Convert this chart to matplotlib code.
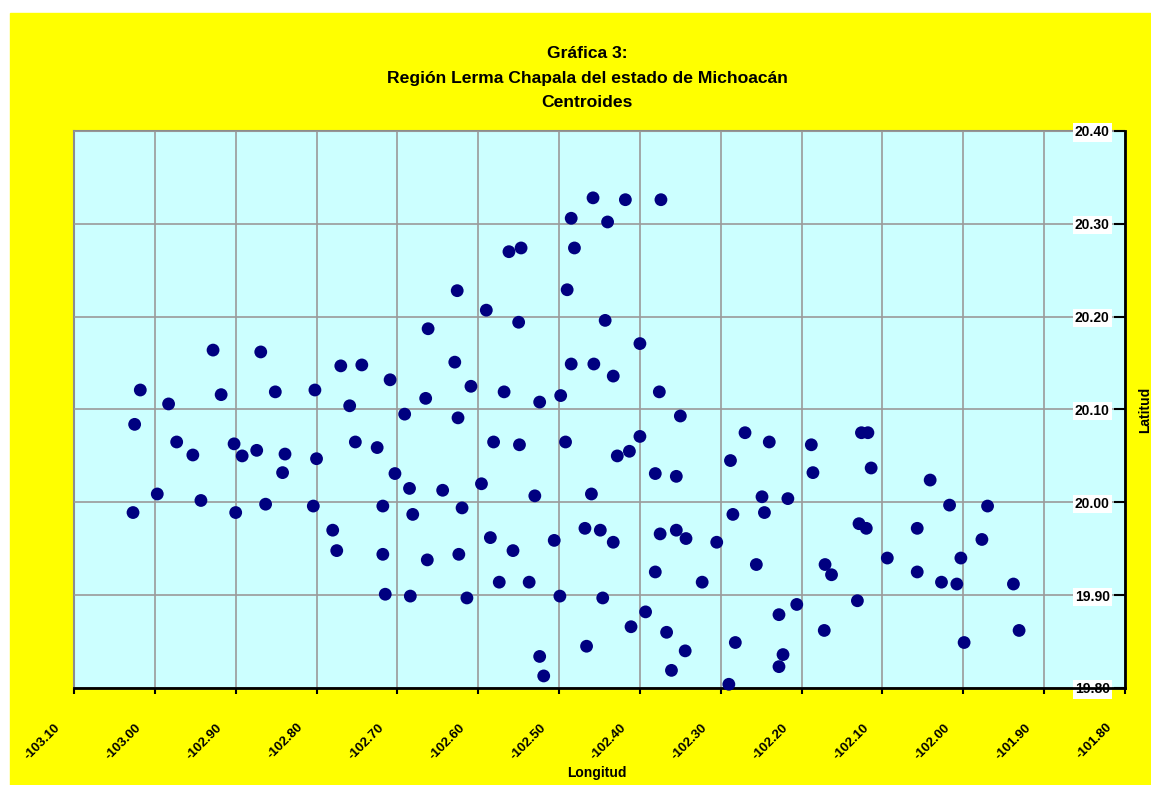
import numpy as np
import matplotlib
matplotlib.use('Agg')
import matplotlib.pyplot as plt
from matplotlib.patches import Rectangle
from matplotlib.transforms import ScaledTranslation

plt.rcParams['font.family'] = ['Liberation Sans', 'DejaVu Sans']

# centroides (longitud, latitud)
longitud = [
    -102.928, -102.869, -102.770, -102.744, -102.709, -103.018, -102.983, -102.918,
    -102.851, -102.802, -102.759, -103.025, -102.973, -102.953, -102.902, -102.892,
    -102.874, -102.839, -102.842, -102.800, -102.752, -102.725, -102.703, -102.997,
    -103.027, -102.943, -102.900, -102.863, -102.804, -102.718, -102.780, -102.775,
    -102.718, -102.715,
    -102.458, -102.418, -102.374, -102.485, -102.440, -102.562, -102.547, -102.481,
    -102.626, -102.490, -102.590, -102.550, -102.443, -102.662, -102.400, -102.629,
    -102.485, -102.457, -102.433, -102.609, -102.665, -102.568, -102.524, -102.498,
    -102.376, -102.691, -102.625, -102.350,
    -102.581, -102.549, -102.492, -102.400, -102.428, -102.413, -102.685, -102.644,
    -102.596, -102.530, -102.460, -102.381, -102.355, -102.620, -102.681, -102.585,
    -102.506, -102.468, -102.449, -102.433, -102.375, -102.355, -102.343, -102.305,
    -102.663, -102.624, -102.557, -102.574, -102.537, -102.381, -102.323, -102.684,
    -102.614, -102.499, -102.446, -102.393, -102.411, -102.367, -102.466, -102.344,
    -102.524, -102.361, -102.519,
    -102.270, -102.240, -102.288, -102.188, -102.186, -102.126, -102.118, -102.114,
    -102.041, -102.249, -102.217, -102.285, -102.246, -102.017, -101.970, -102.129,
    -102.120, -102.057, -101.977, -102.256, -102.171, -102.163, -102.094, -102.057,
    -102.003, -102.027, -102.008, -101.938, -102.206, -102.228, -102.131, -102.172,
    -102.282, -101.931, -101.999, -102.223, -102.228, -102.290,
]
latitud = [
    20.164, 20.162, 20.147, 20.148, 20.132, 20.121, 20.106, 20.116,
    20.119, 20.121, 20.104, 20.084, 20.065, 20.051, 20.063, 20.050,
    20.056, 20.052, 20.032, 20.047, 20.065, 20.059, 20.031, 20.009,
    19.989, 20.002, 19.989, 19.998, 19.996, 19.996, 19.970, 19.948,
    19.944, 19.901,
    20.328, 20.326, 20.326, 20.306, 20.302, 20.270, 20.274, 20.274,
    20.228, 20.229, 20.207, 20.194, 20.196, 20.187, 20.171, 20.151,
    20.149, 20.149, 20.136, 20.125, 20.112, 20.119, 20.108, 20.115,
    20.119, 20.095, 20.091, 20.093,
    20.065, 20.062, 20.065, 20.071, 20.050, 20.055, 20.015, 20.013,
    20.020, 20.007, 20.009, 20.031, 20.028, 19.994, 19.987, 19.962,
    19.959, 19.972, 19.970, 19.957, 19.966, 19.970, 19.961, 19.957,
    19.938, 19.944, 19.948, 19.914, 19.914, 19.925, 19.914, 19.899,
    19.897, 19.899, 19.897, 19.882, 19.866, 19.860, 19.845, 19.840,
    19.834, 19.819, 19.813,
    20.075, 20.065, 20.045, 20.062, 20.032, 20.075, 20.075, 20.037,
    20.024, 20.006, 20.004, 19.987, 19.989, 19.997, 19.996, 19.977,
    19.972, 19.972, 19.960, 19.933, 19.933, 19.922, 19.940, 19.925,
    19.940, 19.914, 19.912, 19.912, 19.890, 19.879, 19.894, 19.862,
    19.849, 19.862, 19.849, 19.836, 19.823, 19.804,
]

xticks = np.round(np.arange(-103.10, -101.79, 0.10), 2)
yticks = np.round(np.arange(19.80, 20.41, 0.10), 2)

W, H = 1151, 785
fig = plt.figure(figsize=(W / 100, H / 100), dpi=100, facecolor='white')
fig.patches.append(Rectangle((10 / W, 0), 1 - 10 / W, 772 / H,
                             transform=fig.transFigure, color='#FFFF00', zorder=-5))

ax = fig.add_axes([74 / W, 1 - 688 / H, (1125 - 74) / W, (688 - 131) / H])
ax.set_facecolor('#CCFFFF')

ax.scatter(longitud, latitud, s=85, color='#000080', edgecolors='none', zorder=3, clip_on=False)

ax.set_xlim(-103.10, -101.80)
ax.set_ylim(19.80, 20.40)

ax.set_xticks(xticks)
ax.set_xticklabels(['%.2f' % v for v in xticks], rotation=45, ha='right',
                   fontsize=9.5, fontweight='bold')
ax.tick_params(axis='x', direction='out', length=4, width=1.5, pad=20, color='black')
shift = ScaledTranslation(-8 / 72, 0, fig.dpi_scale_trans)
for lab in ax.get_xticklabels():
    lab.set_transform(lab.get_transform() + shift)

ax.yaxis.tick_right()
ax.set_yticks(yticks)
ax.set_yticklabels(['%.2f' % v for v in yticks], fontsize=10, fontweight='bold')
ax.tick_params(axis='y', direction='in', length=8, width=1.5, pad=-11, color='black')
for lab in ax.get_yticklabels():
    lab.set_horizontalalignment('right')
    lab.set_bbox(dict(facecolor='white', edgecolor='none', pad=1.5))

ax.grid(True, color='#9a9a9a', linewidth=1.2)
ax.set_axisbelow(True)
ax.yaxis.set_zorder(2.6)

for side in ['top', 'left']:
    ax.spines[side].set_color('#8c8c8c')
    ax.spines[side].set_linewidth(1.5)
for side in ['bottom', 'right']:
    ax.spines[side].set_color('black')
    ax.spines[side].set_linewidth(2)
    ax.spines[side].set_zorder(2.7)

fig.text(587 / W, 1 - 78 / H,
         'Gráfica 3:\nRegión Lerma Chapala del estado de Michoacán\nCentroides',
         ha='center', va='center', fontsize=12.6, fontweight='bold', linespacing=1.78)
fig.text(597 / W, 1 - 773 / H, 'Longitud', ha='center', va='center',
         fontsize=10, fontweight='bold')
fig.text(1145 / W, 1 - 410 / H, 'Latitud', ha='center', va='center',
         rotation=90, fontsize=10, fontweight='bold')

fig.savefig('out.png', dpi=100, facecolor=fig.get_facecolor())
